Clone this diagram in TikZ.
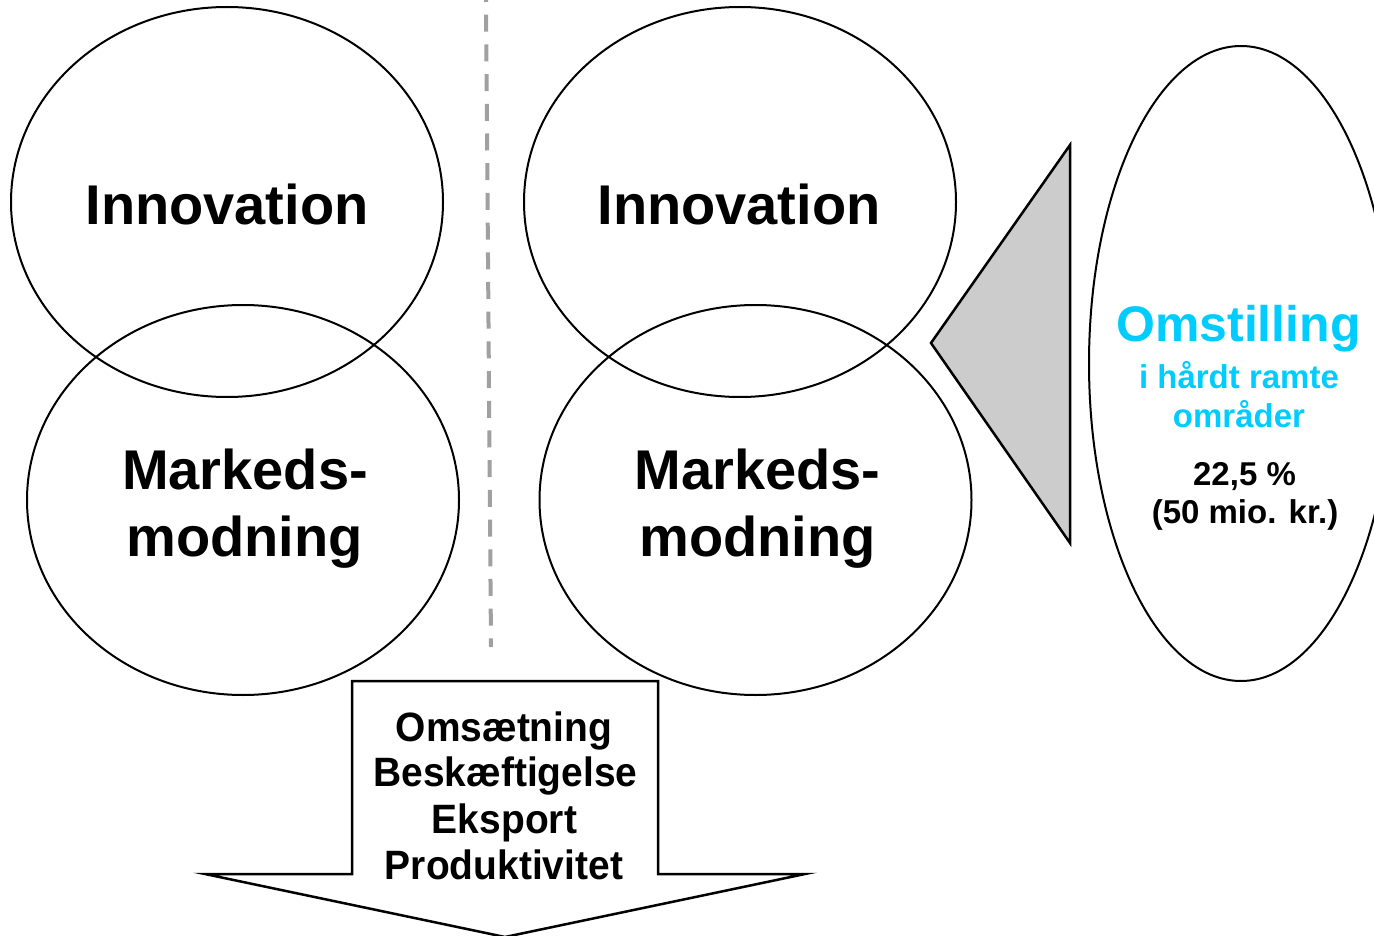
\documentclass[tikz,border=0pt]{standalone}
\usepackage{fontspec}
\setmainfont{Liberation Sans}
\usetikzlibrary{shapes.geometric}
\definecolor{cyanT}{RGB}{0,204,255}
\definecolor{dashgray}{RGB}{160,160,160}
\definecolor{trigray}{RGB}{204,204,204}
\newcommand\narrowtxt[1]{\scalebox{0.95}[1]{#1}}
\begin{document}
\begin{tikzpicture}[x=1pt,y=-1pt,
  oval/.style={ellipse,draw,line width=2pt,inner sep=0pt,outer sep=0pt},
  bigtxt/.style={font=\bfseries\fontsize{56}{60}\selectfont,anchor=base,inner sep=0pt},
  omtxt/.style={font=\bfseries\fontsize{50}{54}\selectfont,anchor=base,inner sep=0pt,text=cyanT},
  subtxt/.style={font=\bfseries\fontsize{33}{36}\selectfont,anchor=base,inner sep=0pt,text=cyanT},
  numtxt/.style={font=\bfseries\fontsize{33}{36}\selectfont,anchor=base,inner sep=0pt},
  arrtxt/.style={font=\bfseries\fontsize{41}{44}\selectfont,anchor=base,inner sep=0pt},
  divider/.style={draw=dashgray,line width=4pt,dash pattern=on 17pt off 12.7pt,dash phase=15pt}]
\useasboundingbox (0,0) rectangle (1374,936);
\clip (0,0) rectangle (1374,936);

% dashed divider
\coordinate (dtop) at (486,0);
\coordinate (dbot) at (491,647);
\draw[divider] (dtop) -- (dbot);

% left pair
\node[oval,minimum width=432pt,minimum height=390pt] (innovLoval) at (227,202) {};
\node[oval,minimum width=432pt,minimum height=390pt] (markLoval) at (243,500) {};
% right pair
\node[oval,minimum width=432pt,minimum height=390pt] (innovRoval) at (740,202) {};
\node[oval,minimum width=432pt,minimum height=390pt] (markRoval) at (755.5,500) {};

\node[bigtxt] (innovL) at (227,225) {Innovation};
\node[bigtxt] (markL1) at (245,489) {Markeds-};
\node[bigtxt] (markL2) at (244.5,556) {modning};
\node[bigtxt] (innovR) at (739,225) {Innovation};
\node[bigtxt] (markR1) at (757.5,489) {Markeds-};
\node[bigtxt] (markR2) at (757.5,556) {modning};

% triangle
\draw[line width=2.5pt,fill=trigray,line join=miter] (931,343) -- (1070,145) -- (1070,543) -- cycle;

% right oval
\node[oval,minimum width=304pt,minimum height=635pt] (omOval) at (1241,363.5) {};
\node[omtxt] (om1) at (1238.5,341) {Omstilling};
\node[subtxt] (om2) at (1239,388) {i hårdt ramte};
\node[subtxt] (om3) at (1239,427) {områder};
\node[numtxt] (om4) at (1244.5,485) {22,5 \%};
\node[numtxt] (om5) at (1245,523) {(50 mio. kr.)};

% down arrow
\draw[line width=2.5pt,fill=white,line join=miter]
  (352,681) -- (658,681) -- (658,874) -- (805,874) -- (505,937) -- (205,874) -- (352,874) -- cycle;
\node[arrtxt] (ar1) at (504,741) {\narrowtxt{Omsætning}};
\node[arrtxt] (ar2) at (505.5,786) {\narrowtxt{Beskæftigelse}};
\node[arrtxt] (ar3) at (504.5,833) {\narrowtxt{Eksport}};
\node[arrtxt] (ar4) at (504,879) {\narrowtxt{Produktivitet}};
\end{tikzpicture}
\end{document}
